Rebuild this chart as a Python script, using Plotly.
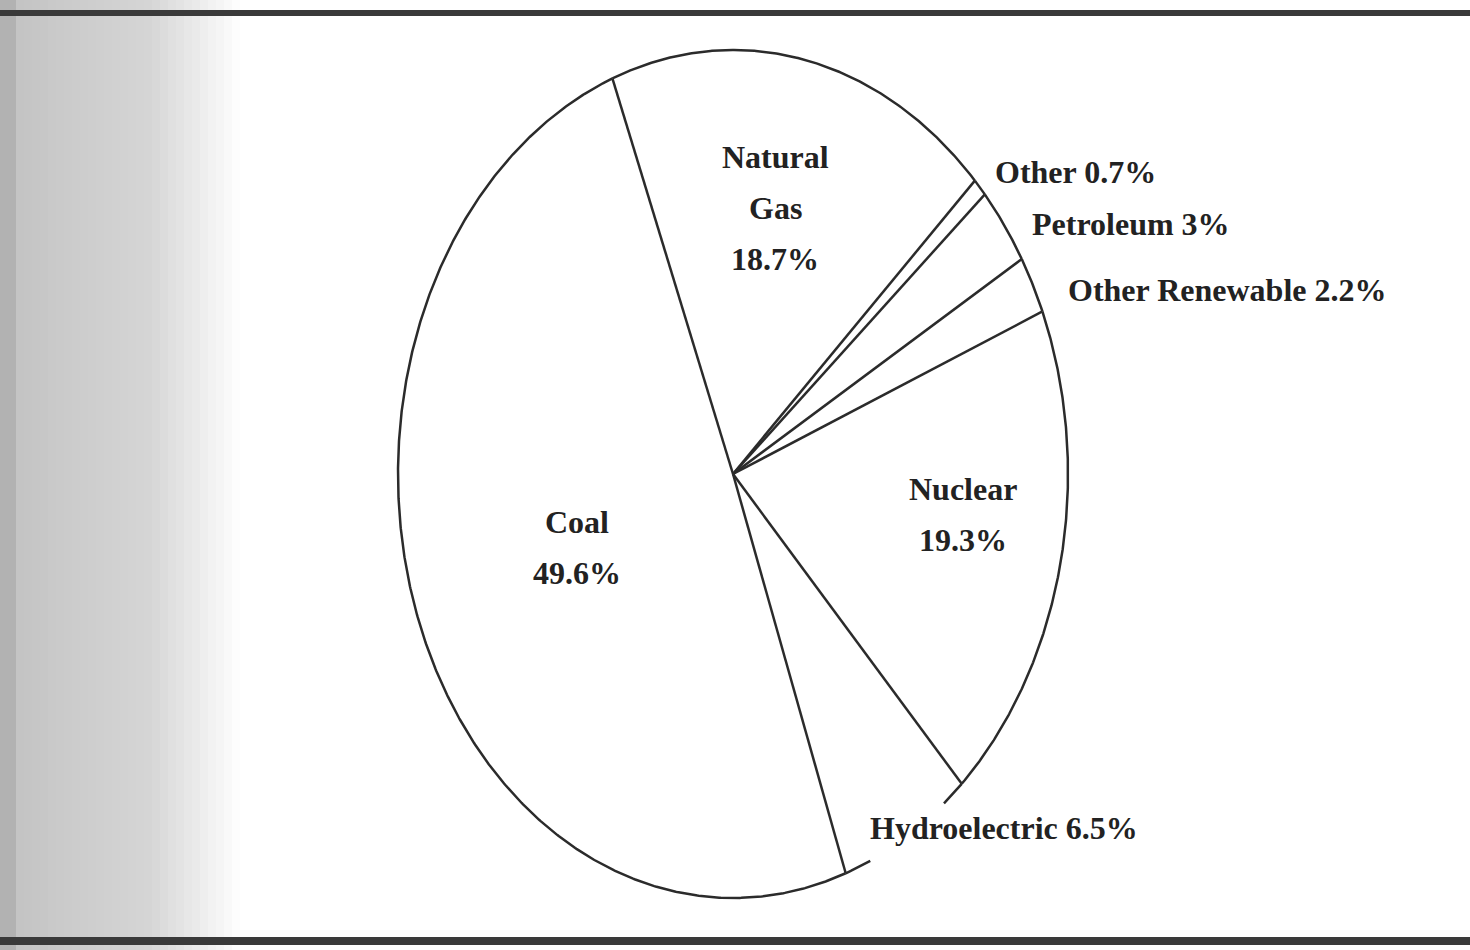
import math
import plotly.graph_objects as go

# ---- data ----
categories = ["Natural Gas", "Other", "Petroleum", "Other Renewable", "Nuclear", "Hydroelectric", "Coal"]
shares = [18.7, 0.7, 3.0, 2.2, 19.3, 6.5, 49.6]
label_texts = {
    "Natural Gas": ["Natural", "Gas", "18.7%"],
    "Other": ["Other 0.7%"],
    "Petroleum": ["Petroleum 3%"],
    "Other Renewable": ["Other Renewable 2.2%"],
    "Nuclear": ["Nuclear", "19.3%"],
    "Hydroelectric": ["Hydroelectric 6.5%"],
    "Coal": ["Coal", "49.6%"],
}

# ---- layout / style (pixel space) ----
W, H = 1470, 950
CX, CY = 733, 474
RX, RY = 335, 424
START_DEG = -21.1  # clockwise from 12 o'clock
LINE_COLOR = "#2b2b2b"
TEXT_COLOR = "#222222"
FONT = "Liberation Serif, Times New Roman, serif"
FSIZE = 32
# slices whose outer arc is interrupted to make room for the label (fraction of sweep)
arc_gaps = {"Hydroelectric": (0.18, 0.80)}

# label placement: (x, first-line y, anchor, line gap)
label_pos = {
    "Natural Gas": (775, 157, "center", 51),
    "Other": (993, 172, "left", 0),
    "Petroleum": (1030, 224, "left", 0),
    "Other Renewable": (1066, 290, "left", 0),
    "Nuclear": (963, 489, "center", 51),
    "Hydroelectric": (868, 828, "left", 0),
    "Coal": (577, 522, "center", 51),
}


def pt(deg):
    t = math.radians(deg)
    return CX + RX * math.sin(t), CY - RY * math.cos(t)


fig = go.Figure()

total = sum(shares)
ang = START_DEG
ox, oy = [], []
for cat, val in zip(categories, shares):
    sweep = val / total * 360.0
    n = max(4, int(sweep * 2))
    arc = [pt(ang + sweep * i / n) for i in range(n + 1)]
    xs = [CX] + [p[0] for p in arc] + [CX]
    ys = [CY] + [p[1] for p in arc] + [CY]
    fig.add_trace(go.Scatter(
        x=xs, y=ys, mode="lines", fill="toself", fillcolor="white",
        line=dict(width=0, color="white"), name=cat,
        hoverinfo="name", showlegend=False,
    ))
    # radial boundary line at slice start
    sx, sy = pt(ang)
    ox += [CX, sx, None]
    oy += [CY, sy, None]
    # outer arc (possibly with a gap for the label)
    g0, g1 = arc_gaps.get(cat, (None, None))
    m = max(8, int(sweep * 4))
    seg_x, seg_y = [], []
    for i in range(m + 1):
        f = i / m
        if g0 is not None and g0 < f < g1:
            if seg_x:
                ox += seg_x + [None]
                oy += seg_y + [None]
                seg_x, seg_y = [], []
            continue
        px, py = pt(ang + sweep * f)
        seg_x.append(px)
        seg_y.append(py)
    ox += seg_x + [None]
    oy += seg_y + [None]
    ang += sweep

fig.add_trace(go.Scatter(
    x=ox, y=oy, mode="lines", line=dict(color=LINE_COLOR, width=2.5),
    hoverinfo="skip", showlegend=False, connectgaps=False,
))

annotations = []
for cat in categories:
    x0, y0, anchor, gap = label_pos[cat]
    for k, line in enumerate(label_texts[cat]):
        annotations.append(dict(
            x=x0, y=y0 + k * gap, xref="x", yref="y", text=f"<b>{line}</b>",
            showarrow=False, xanchor=anchor, yanchor="middle",
            font=dict(family=FONT, size=FSIZE, color=TEXT_COLOR),
        ))

# scanned-page decoration: left gray gradient and top/bottom rules
shapes = []
strip_w = 8
for i in range(0, 240, strip_w):
    xc = i + strip_w / 2
    if xc < 14:
        g = 178
    elif xc < 150:
        g = 196 + (xc - 14) / 136 * 18
    else:
        g = 214 + (xc - 150) / 90 * 41
    g = int(min(255, g))
    shapes.append(dict(type="rect", xref="x", yref="y", x0=i, x1=i + strip_w, y0=0, y1=H,
                       fillcolor=f"rgb({g},{g},{g})", line=dict(width=0), layer="below"))
shapes.append(dict(type="rect", xref="x", yref="y", x0=0, x1=W, y0=10, y1=16,
                   fillcolor="#3a3a3a", line=dict(width=0), layer="below"))
shapes.append(dict(type="rect", xref="x", yref="y", x0=0, x1=W, y0=937, y1=945,
                   fillcolor="#3a3a3a", line=dict(width=0), layer="below"))

fig.update_layout(
    width=W, height=H, margin=dict(l=0, r=0, t=0, b=0),
    paper_bgcolor="white", plot_bgcolor="white",
    xaxis=dict(range=[0, W], visible=False, fixedrange=True),
    yaxis=dict(range=[H, 0], visible=False, fixedrange=True),
    annotations=annotations, shapes=shapes, showlegend=False,
)

fig.write_html("out.html", config={"displayModeBar": False},
               post_script="document.body.style.margin='0';")
